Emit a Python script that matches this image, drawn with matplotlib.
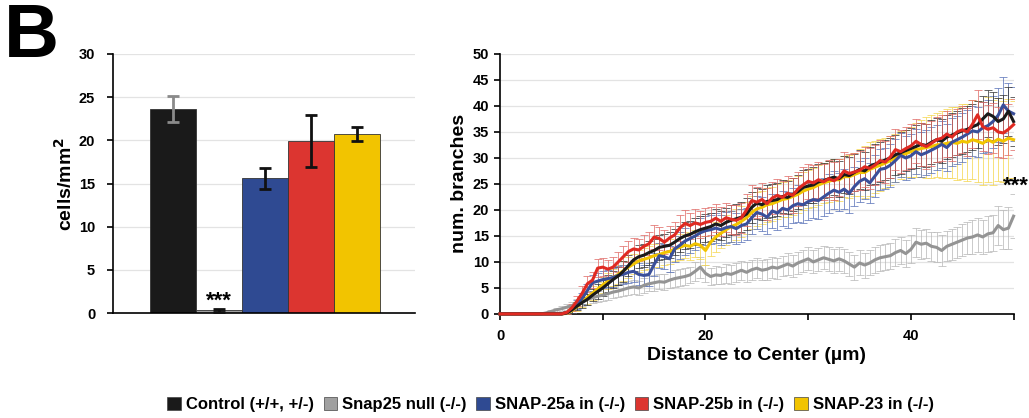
#!/usr/bin/env python3
"""Panel B: cell density bars + Sholl-type branch counts vs distance."""

import numpy as np
import matplotlib
matplotlib.use("Agg")
import matplotlib.pyplot as plt
from matplotlib.patches import Patch

plt.rcParams["font.family"] = ["Liberation Sans", "DejaVu Sans"]
plt.rcParams["font.weight"] = "bold"

# ---- bar chart data ----
groups = ["Control (+/+, +/-)", "Snap25 null (-/-)", "SNAP-25a in (-/-)",
          "SNAP-25b in (-/-)", "SNAP-23 in (-/-)"]
density = [23.6, 0.3, 15.6, 19.9, 20.7]
density_err = [1.5, 0.15, 1.2, 3.0, 0.8]

# ---- line chart data (0.5 um steps) ----
distance = np.arange(0, 50.5, 0.5)

control = [0, 0, 0, 0, 0, 0, 0, 0, 0, 0, 0, 0, 0, 0.2,
           0.8, 1.5, 2.2, 2.8, 3.6, 4.3, 5.0, 5.8, 6.6, 7.3, 8.2, 9.3, 10.4, 11.0,
           11.3, 11.8, 12.2, 12.8, 13.0, 13.2, 13.8, 14.5, 15.0, 15.3, 15.8, 16.2,
           16.5, 16.8, 17.3, 17.0, 17.6, 18.0, 18.3, 18.6, 19.2, 20.5, 21.3, 21.0,
           21.6, 21.8, 22.0, 22.6, 22.4, 23.0, 23.5, 24.3, 24.6, 24.8, 25.4, 25.6,
           26.0, 26.3, 26.0, 26.8, 26.6, 27.2, 27.8, 27.5, 28.4, 28.8, 29.2, 29.6,
           30.0, 30.6, 31.0, 31.4, 31.8, 32.2, 32.6, 32.4, 33.0, 33.5, 33.2, 34.0,
           34.4, 34.8, 35.2, 35.5, 36.0, 36.4, 37.5, 38.5, 38.0, 37.0, 37.5, 39.0, 37.0]
control_err = [0, 0, 0, 0, 0, 0, 0, 0, 0, 0, 0, 0, 0, 0.3,
               0.6, 0.8, 1.0, 1.1, 1.2, 1.4, 1.5, 1.6, 1.7, 1.8, 2.0, 2.0, 2.1, 2.2,
               2.2, 2.3, 2.3, 2.4, 2.4, 2.5, 2.5, 2.5, 2.6, 2.6, 2.6, 2.7,
               2.7, 2.7, 2.8, 2.8, 2.8, 2.9, 2.9, 2.9, 3.0, 3.0, 3.0, 3.0,
               3.1, 3.1, 3.1, 3.2, 3.2, 3.2, 3.3, 3.3, 3.3, 3.4, 3.4, 3.4,
               3.5, 3.5, 3.5, 3.6, 3.6, 3.6, 3.7, 3.7, 3.7, 3.8, 3.8, 3.8,
               3.9, 3.9, 4.0, 4.0, 4.0, 4.1, 4.1, 4.1, 4.2, 4.2, 4.2, 4.3,
               4.3, 4.3, 4.4, 4.4, 4.4, 4.5, 4.5, 4.5, 4.6, 4.6, 4.6, 4.7, 4.7]

null = [0, 0, 0, 0, 0, 0, 0, 0, 0, 0.2, 0.5, 0.8, 1.0, 1.3,
        1.6, 2.0, 2.4, 2.8, 3.1, 3.4, 3.6, 3.9, 4.2, 4.4, 4.7, 5.0, 5.2, 5.0,
        5.5, 5.8, 6.0, 6.2, 6.1, 6.5, 6.8, 7.0, 7.2, 7.5, 8.2, 9.0,
        7.8, 7.2, 7.5, 7.4, 7.8, 7.6, 8.0, 8.4, 8.0, 8.5, 8.8, 8.4,
        8.6, 9.0, 8.8, 9.2, 9.6, 9.2, 9.8, 10.2, 10.6, 10.0, 10.4, 10.8,
        10.5, 10.2, 10.6, 10.2, 9.6, 9.0, 9.8, 9.4, 9.8, 10.4, 10.8, 11.0,
        11.2, 11.8, 12.2, 11.6, 12.4, 13.8, 13.4, 13.6, 13.0, 12.8, 12.2, 13.0,
        13.4, 13.8, 14.2, 14.6, 14.8, 15.2, 14.8, 15.4, 15.6, 17.0, 16.2, 16.5, 18.8]
null_err = [0, 0, 0, 0, 0, 0, 0, 0, 0, 0.2, 0.3, 0.4, 0.5, 0.6,
            0.7, 0.8, 0.9, 1.0, 1.0, 1.1, 1.1, 1.2, 1.2, 1.2, 1.3, 1.3, 1.3, 1.4,
            1.4, 1.4, 1.5, 1.5, 1.5, 1.5, 1.6, 1.6, 1.6, 1.6, 1.8, 2.0,
            1.7, 1.7, 1.7, 1.7, 1.8, 1.8, 1.8, 1.8, 1.9, 1.9, 1.9, 1.9,
            2.0, 2.0, 2.0, 2.0, 2.1, 2.1, 2.1, 2.1, 2.2, 2.2, 2.2, 2.2,
            2.3, 2.3, 2.3, 2.3, 2.3, 2.4, 2.4, 2.4, 2.4, 2.5, 2.5, 2.5,
            2.5, 2.6, 2.6, 2.6, 2.7, 2.8, 2.8, 2.8, 2.8, 2.9, 2.9, 2.9,
            3.0, 3.0, 3.1, 3.1, 3.2, 3.2, 3.3, 3.4, 3.5, 3.8, 3.8, 4.0, 4.2]

snap25a = [0, 0, 0, 0, 0, 0, 0, 0, 0, 0, 0, 0, 0, 0.2,
           0.8, 1.8, 3.0, 4.5, 6.0, 6.3, 6.6, 6.8, 7.0, 7.4, 7.6, 8.0, 8.2, 7.6,
           7.4, 7.6, 9.5, 11.2, 11.0, 10.6, 12.5, 13.2, 14.0, 14.5, 15.0, 15.6,
           16.0, 16.2, 16.5, 16.2, 16.6, 16.8, 16.4, 17.0, 17.3, 18.5, 19.5, 19.2,
           18.6, 19.8, 19.4, 20.3, 20.0, 20.8, 21.2, 21.0, 21.6, 22.0, 21.8, 22.5,
           23.2, 23.8, 23.4, 24.0, 23.2, 24.5, 25.5, 26.0, 25.2, 26.5, 27.8, 28.0,
           28.6, 29.5, 30.5, 30.0, 30.4, 31.2, 30.6, 31.0, 31.5, 32.0, 32.6, 32.0,
           33.0, 33.5, 34.0, 34.6, 35.2, 35.0, 35.8, 36.2, 37.0, 38.2, 40.2, 39.0, 38.5]
snap25a_err = [0, 0, 0, 0, 0, 0, 0, 0, 0, 0, 0, 0, 0, 0.3,
               0.6, 0.9, 1.1, 1.3, 1.5, 1.6, 1.6, 1.7, 1.8, 1.8, 1.9, 2.0, 2.0, 2.1,
               2.1, 2.2, 2.3, 2.4, 2.4, 2.5, 2.5, 2.6, 2.6, 2.7, 2.7, 2.8,
               2.8, 2.8, 2.9, 2.9, 3.0, 3.0, 3.0, 3.1, 3.1, 3.2, 3.2, 3.2,
               3.3, 3.3, 3.3, 3.4, 3.4, 3.4, 3.5, 3.5, 3.5, 3.6, 3.6, 3.6,
               3.7, 3.7, 3.7, 3.8, 3.8, 3.8, 3.9, 3.9, 3.9, 4.0, 4.0, 4.0,
               4.1, 4.1, 4.2, 4.2, 4.2, 4.3, 4.3, 4.3, 4.4, 4.4, 4.5, 4.5,
               4.6, 4.6, 4.7, 4.7, 4.8, 4.8, 4.9, 5.0, 5.0, 5.2, 5.4, 5.4, 5.2]

snap25b = [0, 0, 0, 0, 0, 0, 0, 0, 0, 0, 0, 0, 0, 0.3,
           1.2, 2.5, 4.0, 5.8, 6.5, 8.8, 9.0, 8.6, 9.0, 10.0, 11.0, 12.0, 12.5, 12.3,
           13.0, 13.5, 14.8, 14.5, 13.8, 14.6, 15.2, 16.5, 17.4, 17.0, 17.5, 17.2,
           17.6, 17.8, 18.4, 17.8, 18.5, 18.2, 18.0, 18.5, 20.0, 21.8, 21.5, 22.0,
           21.2, 22.3, 22.8, 22.4, 23.2, 22.8, 24.0, 24.8, 25.5, 25.2, 25.8, 25.4,
           26.0, 25.6, 26.2, 27.5, 27.0, 27.3, 27.6, 28.3, 28.0, 28.6, 29.5, 29.2,
           30.2, 31.6, 31.2, 31.8, 32.3, 33.2, 32.6, 32.2, 32.8, 33.5, 33.8, 34.6,
           34.0, 35.0, 35.4, 35.0, 36.5, 38.3, 36.0, 35.5, 35.8, 35.0, 34.8, 35.5, 36.4]
snap25b_err = [0, 0, 0, 0, 0, 0, 0, 0, 0, 0, 0, 0, 0, 0.3,
               0.7, 1.0, 1.3, 1.5, 1.6, 1.7, 1.8, 1.8, 1.9, 1.9, 2.0, 2.0, 2.1, 2.1,
               2.2, 2.2, 2.3, 2.3, 2.3, 2.4, 2.4, 2.5, 2.5, 2.5, 2.6, 2.6,
               2.7, 2.7, 2.7, 2.8, 2.8, 2.8, 2.9, 2.9, 3.0, 3.0, 3.0, 3.1,
               3.1, 3.1, 3.2, 3.2, 3.3, 3.3, 3.3, 3.4, 3.4, 3.4, 3.5, 3.5,
               3.6, 3.6, 3.6, 3.7, 3.7, 3.7, 3.8, 3.8, 3.9, 3.9, 3.9, 4.0,
               4.0, 4.0, 4.1, 4.1, 4.2, 4.2, 4.2, 4.3, 4.3, 4.3, 4.4, 4.4,
               4.5, 4.5, 4.5, 4.6, 4.6, 4.7, 4.7, 4.7, 4.8, 4.8, 4.8, 4.9, 4.9]

snap23 = [0, 0, 0, 0, 0, 0, 0, 0, 0, 0, 0, 0, 0, 0.1,
          0.6, 1.4, 2.3, 3.2, 4.0, 4.8, 5.6, 6.3, 7.0, 7.6, 8.3, 9.0, 9.6, 10.2,
          10.5, 10.8, 11.2, 11.4, 11.8, 12.0, 12.5, 12.8, 13.2, 13.0, 13.5, 13.2,
          12.2, 13.8, 14.8, 15.5, 16.2, 16.8, 17.2, 17.8, 18.5, 19.5,
          20.2, 20.5, 21.0, 21.2, 21.6, 22.0, 22.2, 22.6, 23.0, 23.6,
          24.0, 24.3, 24.8, 25.2, 25.5, 25.8, 25.8, 26.4, 26.4, 26.8,
          27.2, 27.2, 27.8, 28.2, 28.6, 29.0, 29.5, 30.0, 30.5, 30.8,
          31.2, 31.6, 31.8, 32.0, 32.2, 32.5, 32.6, 32.8, 33.0, 32.8,
          33.2, 33.0, 33.5, 33.2, 32.8, 33.5, 33.0, 33.6, 33.2, 33.8, 33.5]
snap23_err = [0, 0, 0, 0, 0, 0, 0, 0, 0, 0, 0, 0, 0, 0.2,
              0.5, 0.8, 1.0, 1.2, 1.3, 1.4, 1.5, 1.6, 1.7, 1.8, 1.9, 2.0, 2.0, 2.1,
              2.1, 2.2, 2.2, 2.3, 2.3, 2.4, 2.4, 2.5, 2.5, 2.6, 2.6, 2.6,
              2.7, 2.7, 2.8, 2.8, 2.9, 2.9, 3.0, 3.0, 3.1, 3.1, 3.2, 3.2,
              3.3, 3.3, 3.4, 3.4, 3.5, 3.5, 3.6, 3.6, 3.7, 3.7, 3.8, 3.8,
              3.9, 3.9, 4.0, 4.0, 4.1, 4.2, 4.6, 5.0, 5.2, 5.0, 5.0, 4.8,
              4.8, 4.6, 4.6, 4.5, 4.8, 5.2, 5.5, 5.8, 6.0, 6.2, 6.4, 6.6,
              6.8, 7.0, 7.2, 7.4, 7.6, 7.8, 8.0, 8.2, 8.2, 8.0, 7.8, 7.6, 7.4]

COLORS = ["#1a1a1a", "#a0a0a0", "#2f4a92", "#dc3530", "#f2c400"]
ERR_COLORS = ["#333333", "#b8b8b8", "#5a72b8", "#e06a66", "#f5d650"]
LINE_COLORS = ["#1a1a1a", "#949494", "#3a4f9a", "#e02a22", "#f2c400"]


def main():
    fig = plt.figure(figsize=(10.29, 4.18), dpi=100)

    # ---- left: bar chart ----
    ax1 = fig.add_axes([0.110, 0.251, 0.293, 0.620])
    pos = np.arange(len(groups))
    ax1.bar(pos, density, width=1.0, color=COLORS, edgecolor="#333333",
            linewidth=0.6, zorder=2)
    for i in range(len(groups)):
        ecol = "#8a8a8a" if i == 0 else "#111111"
        ax1.errorbar(pos[i], density[i], yerr=density_err[i], fmt="none",
                     ecolor=ecol, elinewidth=2.0, capsize=4, capthick=2.0,
                     zorder=3)
    ax1.text(pos[1], 1.4, "***", ha="center", va="center", fontsize=16,
             fontweight="bold")
    ax1.set_xlim(-1.3, 5.26)
    ax1.set_ylim(0, 30)
    ax1.set_yticks(range(0, 31, 5))
    ax1.set_xticks([])
    ax1.yaxis.grid(True, color="#e3e3e3", linewidth=0.9, zorder=0)
    ax1.set_axisbelow(True)
    for s in ["top", "right"]:
        ax1.spines[s].set_visible(False)
    ax1.spines["left"].set_linewidth(1.2)
    ax1.spines["bottom"].set_linewidth(1.2)
    ax1.tick_params(axis="y", length=4, width=1.2, labelsize=10.5, pad=9)
    ax1.set_ylabel("cells/mm$\\mathbf{^2}$", fontsize=14, fontweight="bold",
                   labelpad=2)

    # ---- right: branches vs distance ----
    ax2 = fig.add_axes([0.486, 0.249, 0.499, 0.622])
    series = [control, null, snap25a, snap25b, snap23]
    errors = [control_err, null_err, snap25a_err, snap25b_err, snap23_err]
    order = [1, 4, 2, 0, 3]
    for k, i in enumerate(order):
        ax2.errorbar(distance, series[i], yerr=errors[i], fmt="none",
                     ecolor=ERR_COLORS[i], elinewidth=0.7, capsize=3,
                     capthick=0.7, alpha=0.75, zorder=2 + k)
    for k, i in enumerate(order):
        ax2.plot(distance, series[i], color=LINE_COLORS[i], linewidth=2.2,
                 zorder=10 + k, clip_on=False)
    ax2.text(50.2, 24.5, "***", ha="center", va="center", fontsize=16,
             fontweight="bold")
    ax2.set_xlim(0, 50)
    ax2.set_ylim(0, 50)
    ax2.set_yticks(range(0, 51, 5))
    ax2.set_xticks(range(0, 51, 10))
    ax2.set_xticklabels(["0", "", "20", "", "40", ""])
    ax2.yaxis.grid(True, color="#e3e3e3", linewidth=0.9, zorder=0)
    ax2.set_axisbelow(True)
    for s in ["top", "right"]:
        ax2.spines[s].set_visible(False)
    ax2.spines["left"].set_linewidth(1.2)
    ax2.spines["bottom"].set_linewidth(1.2)
    ax2.tick_params(axis="y", length=4, width=1.2, labelsize=10.5, pad=4)
    ax2.tick_params(axis="x", length=4, width=1.2, labelsize=10.5, pad=7)
    ax2.set_ylabel("num. branches", fontsize=14, fontweight="bold", labelpad=3)
    ax2.set_xlabel("Distance to Center (\u00b5m)", fontsize=14,
                   fontweight="bold", labelpad=3)

    # panel letter
    fig.text(0.004, 0.995, "B", fontsize=55, fontweight="bold", va="top",
             ha="left")

    # legend
    handles = [Patch(facecolor=c, edgecolor="#444444", linewidth=0.5)
               for c in COLORS]
    fig.legend(handles, groups, loc="center", bbox_to_anchor=(0.535, 0.032),
               ncol=5, frameon=False, handlelength=0.8,
               handleheight=0.8, handletextpad=0.3, columnspacing=0.6,
               prop={"family": ["Liberation Sans Narrow", "Liberation Sans"],
                     "weight": "bold", "size": 12})

    fig.savefig("out.png", dpi=100)
    plt.close(fig)


if __name__ == "__main__":
    main()
